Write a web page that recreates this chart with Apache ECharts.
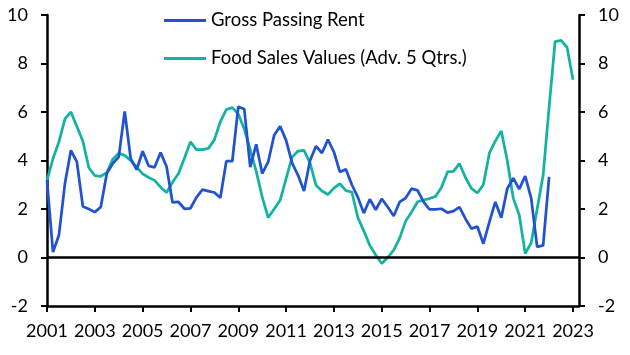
<!DOCTYPE html>
<html>
<head>
<meta charset="utf-8">
<script src="https://cdn.jsdelivr.net/npm/echarts@6/dist/echarts.min.js"></script>
<style>
html,body{margin:0;padding:0;background:#ffffff;}
#chart{width:630px;height:355px;}
</style>
</head>
<body>
<div id="chart"></div>
<script>
// Quarterly categories 2001Q1 .. 2023Q2
const firstYear = 2001;
const lastYear = 2023;
const quarters = [];
for (let y = firstYear; y <= lastYear; y++) {
  for (let q = 1; q <= 4; q++) {
    if (quarters.length < 90) quarters.push(y + 'Q' + q);
  }
}

const seriesNames = ['Gross Passing Rent', 'Food Sales Values (Adv. 5 Qtrs.)'];

// Gross Passing Rent (% y/y), 2001Q1 onwards
const grossPassingRent = [
  3.18, 0.22, 0.93, 3.05, 4.42, 3.94, 2.10, 2.00, 1.87, 2.08,
  3.46, 3.87, 4.15, 6.02, 4.08, 3.62, 4.38, 3.78, 3.72, 4.33,
  3.75, 2.27, 2.29, 2.01, 2.03, 2.48, 2.80, 2.74, 2.68, 2.46,
  3.97, 3.97, 6.22, 6.12, 3.73, 4.67, 3.46, 3.94, 5.04, 5.41,
  4.83, 3.90, 3.39, 2.74, 4.00, 4.59, 4.31, 4.86, 4.35, 3.53,
  3.64, 3.00, 2.49, 1.83, 2.40, 1.97, 2.42, 2.08, 1.71, 2.29,
  2.45, 2.84, 2.77, 2.29, 1.98, 1.98, 2.01, 1.85, 1.91, 2.08,
  1.60, 1.19, 1.28, 0.57, 1.46, 2.29, 1.64, 2.84, 3.27, 2.82,
  3.36, 2.45, 0.44, 0.50, 3.32
];

// Food Sales Values (% y/y, advanced 5 quarters), 2001Q1 onwards
const foodSalesValues = [
  3.18, 4.08, 4.77, 5.72, 6.00, 5.40, 4.80, 3.70, 3.38, 3.35,
  3.50, 4.05, 4.30, 4.21, 4.00, 3.73, 3.45, 3.30, 3.18, 2.90,
  2.68, 3.10, 3.46, 4.10, 4.77, 4.45, 4.45, 4.50, 4.85, 5.60,
  6.10, 6.18, 5.92, 5.30, 4.45, 3.55, 2.50, 1.64, 2.00, 2.36,
  3.25, 4.14, 4.39, 4.42, 3.90, 2.98, 2.74, 2.60, 2.86, 3.05,
  2.76, 2.70, 1.65, 1.10, 0.50, 0.10, -0.25, 0.00, 0.30, 0.80,
  1.50, 1.88, 2.30, 2.37, 2.43, 2.52, 2.90, 3.53, 3.55, 3.87,
  3.30, 2.85, 2.66, 3.00, 4.30, 4.80, 5.22, 4.00, 2.45, 1.75,
  0.16, 0.60, 2.00, 3.40, 6.20, 8.90, 8.95, 8.67, 7.33
];

const yTicks = [-2, 0, 2, 4, 6, 8, 10];

const BLUE = '#2152D0';
const TEAL = '#12B3A2';
const FONT = 'Lato';

const yAxisBase = (pos) => ({
  type: 'value',
  position: pos,
  min: yTicks[0],
  max: yTicks[yTicks.length - 1],
  interval: yTicks[1] - yTicks[0],
  axisLine: { show: true, lineStyle: { color: '#000', width: 2.5 } },
  axisTick: { show: true, length: 6, lineStyle: { color: '#000', width: 2 } },
  axisLabel: { margin: 19, fontSize: 18, color: '#000', fontFamily: FONT },
  splitLine: { show: false }
});

const chart = echarts.init(document.getElementById('chart'), null, { renderer: 'canvas' });
chart.setOption({
  animation: false,
  backgroundColor: '#ffffff',
  textStyle: { fontFamily: FONT },
  grid: { left: 47, right: 51, top: 15, bottom: 49 },
  legend: {
    orient: 'vertical',
    left: 159,
    top: 6,
    itemGap: 19,
    icon: 'rect',
    itemWidth: 42,
    itemHeight: 3,
    textStyle: { fontSize: 18.5, color: '#000', fontFamily: FONT },
    data: seriesNames
  },
  xAxis: {
    type: 'category',
    data: quarters,
    boundaryGap: false,
    axisLine: { onZero: false, lineStyle: { color: '#000', width: 2.5 } },
    axisTick: { interval: 7, length: 6, lineStyle: { color: '#000', width: 2 } },
    axisLabel: {
      interval: 7, margin: 16, fontSize: 18, color: '#000', fontFamily: FONT,
      formatter: (v) => v.slice(0, 4)
    },
    splitLine: { show: false }
  },
  yAxis: [yAxisBase('left'), yAxisBase('right')],
  series: [
    {
      name: seriesNames[1],
      type: 'line',
      data: foodSalesValues,
      symbol: 'none',
      z: 2,
      lineStyle: { color: TEAL, width: 2.75 },
      itemStyle: { color: TEAL },
      markLine: {
        silent: true,
        symbol: ['none', 'none'],
        label: { show: false },
        lineStyle: { color: '#000', width: 2.5, type: 'solid' },
        data: [{ yAxis: 0 }]
      }
    },
    {
      name: seriesNames[0],
      type: 'line',
      data: grossPassingRent,
      symbol: 'none',
      z: 3,
      lineStyle: { color: BLUE, width: 2.75 },
      itemStyle: { color: BLUE }
    }
  ]
});
</script>
</body>
</html>
